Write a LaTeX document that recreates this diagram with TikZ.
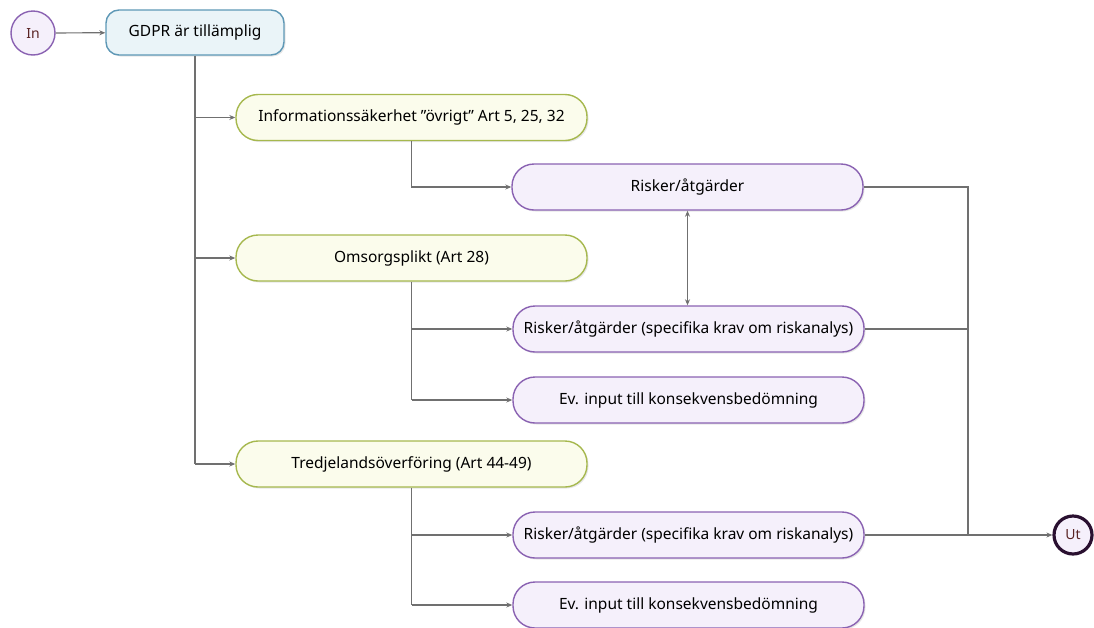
\documentclass[tikz,border=0pt]{standalone}
\usepackage{fontspec}
\setmainfont{Noto Sans}
\usetikzlibrary{arrows.meta,shadows,calc}
\definecolor{purpb}{HTML}{8A62B2}
\definecolor{purpf}{HTML}{F5F0FB}
\definecolor{greenb}{HTML}{A6B84E}
\definecolor{greenf}{HTML}{FBFCEC}
\definecolor{blueb}{HTML}{5E98B6}
\definecolor{bluef}{HTML}{EAF4F8}
\definecolor{linec}{HTML}{707070}
\definecolor{utb}{HTML}{2A1030}
\definecolor{txtc}{HTML}{5A2424}
\tikzset{
  pill/.style={draw, line width=1.4pt, rounded corners=22pt, minimum height=46pt,
    font=\fontsize{15.5}{17}\selectfont, text=black, align=center,
    drop shadow={shadow xshift=1.5pt, shadow yshift=-1.5pt, opacity=0.2}},
  purplebox/.style={pill, draw=purpb, fill=purpf, minimum width=351pt},
  greenbox/.style={pill, draw=greenb, fill=greenf, minimum width=351pt},
  bluebox/.style={pill, draw=blueb, fill=bluef, minimum width=178pt, minimum height=45pt, rounded corners=13pt},
  conn/.style={draw=linec, line width=1.2pt, -{Stealth[length=6pt,width=5pt]}},
  plain/.style={draw=linec, line width=1.2pt},
}
\begin{document}
\begin{tikzpicture}[x=1pt,y=-1pt]
\useasboundingbox (0,0) rectangle (1094,627);
% nodes
\node[circle, draw=purpb, fill=purpf, line width=1.4pt, minimum size=44pt, inner sep=0pt,
  font=\fontsize{14}{16}\selectfont, text=txtc] (in) at (33,33) {In};
\node[bluebox] (gdpr) at (195,32.5) {GDPR är tillämplig};
\node[greenbox] (info) at (411.5,117.5) {Informationssäkerhet ”övrigt” Art 5, 25, 32};
\node[greenbox] (oms) at (411.5,258) {Omsorgsplikt (Art 28)};
\node[greenbox] (tre) at (411.5,464) {Tredjelandsöverföring (Art 44-49)};
\node[purplebox] (r1) at (687.5,187) {Risker/åtgärder};
\node[purplebox] (r2) at (688.5,329) {Risker/åtgärder (specifika krav om riskanalys)};
\node[purplebox] (e1) at (688.5,400) {Ev. input till konsekvensbedömning};
\node[purplebox] (r3) at (688.5,535) {Risker/åtgärder (specifika krav om riskanalys)};
\node[purplebox] (e2) at (688.5,605) {Ev. input till konsekvensbedömning};
\node[circle, draw=utb, fill=purpf, line width=3.2pt, minimum size=38pt, inner sep=0pt,
  font=\fontsize{14}{16}\selectfont, text=txtc] (ut) at (1073,535) {Ut};
\coordinate (m) at (968,535);
% trunks
\draw[plain] (gdpr.south) -- (gdpr.south |- tre.west);
\draw[plain] (oms.south) -- (oms.south |- e1.west);
\draw[plain] (tre.south) -- (tre.south |- e2.west);
% connectors
\draw[conn] (in) -- (gdpr);
\draw[conn] (gdpr.south |- info.west) -- (info.west);
\draw[conn] (gdpr.south |- oms.west) -- (oms.west);
\draw[conn] (gdpr.south |- tre.west) -- (tre.west);
\draw[conn] (info.south) |- (r1.west);
\draw[conn] (oms.south |- r2.west) -- (r2.west);
\draw[conn] (oms.south |- e1.west) -- (e1.west);
\draw[conn] (tre.south |- r3.west) -- (r3.west);
\draw[conn] (tre.south |- e2.west) -- (e2.west);
\draw[conn, {Stealth[length=6pt,width=5pt]}-{Stealth[length=6pt,width=5pt]}] (r1.south) -- (r1.south |- r2.north);
\draw[plain] (r1.east) -| (m);
\draw[plain] (r2.east) -| (m);
\draw[conn] (r3.east) -- (ut);
\end{tikzpicture}
\end{document}
